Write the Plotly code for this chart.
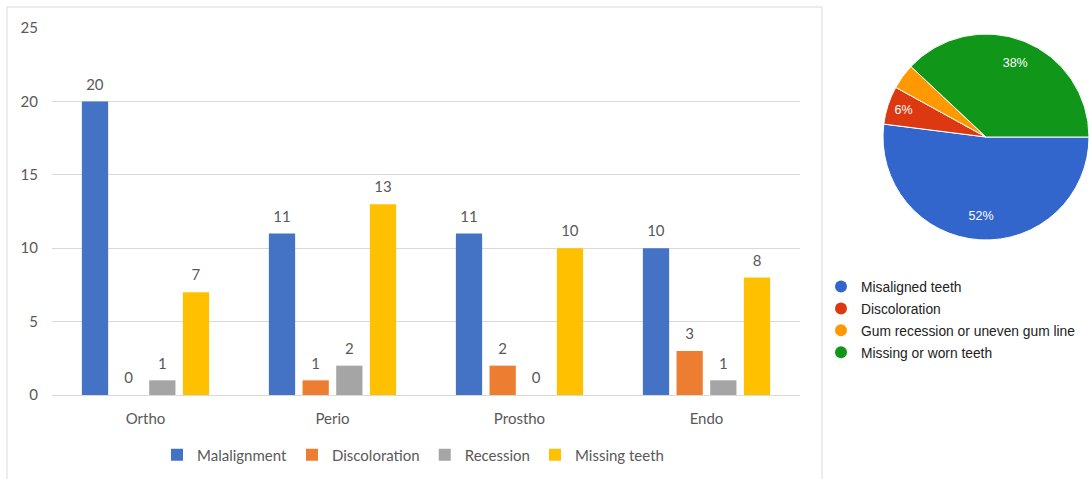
import plotly.graph_objects as go

W, H = 1089, 479

categories = ["Ortho", "Perio", "Prostho", "Endo"]
series_names = ["Malalignment", "Discoloration", "Recession", "Missing teeth"]
malalignment = [20, 11, 11, 10]
discoloration = [0, 1, 2, 3]
recession = [1, 2, 0, 1]
missing_teeth = [7, 13, 10, 8]
bar_values = [malalignment, discoloration, recession, missing_teeth]
bar_colors = ["#4472C4", "#ED7D31", "#A5A5A5", "#FFC000"]
y_ticks = [0, 5, 10, 15, 20, 25]

pie_labels = ["Misaligned teeth", "Discoloration", "Gum recession or uneven gum line", "Missing or worn teeth"]
pie_values = [52, 6, 4, 38]
pie_colors = ["#3366CC", "#DC3912", "#FF9900", "#109618"]
pie_text = ["52%", "6%", "", "38%"]

FONT = "Lato"
GRAY = "#595959"
NUM_SIZE = 15


def px_x(p):
    return p / W


def px_y(p):
    return 1 - p / H


def bar_label(v):
    # number on first line, tiny spacer line below lifts it off the bar top
    return f"<span style='font-size:{NUM_SIZE}px'>{v}</span><br>\u00a0"


fig = go.Figure()

for name, vals, col in zip(series_names, bar_values, bar_colors):
    fig.add_trace(go.Bar(
        name=name, x=categories, y=vals,
        marker=dict(color=col, line=dict(width=0)),
        text=[bar_label(v) for v in vals], textposition="outside",
        textfont=dict(family=FONT, size=6, color=GRAY),
        constraintext="none",
        cliponaxis=False, legend="legend", xaxis="x", yaxis="y",
    ))

pie_domain = dict(x=[px_x(883), 1.0], y=[px_y(240), px_y(34)])

# solid pie with thin white separators
fig.add_trace(go.Pie(
    labels=pie_labels, values=pie_values, sort=False,
    direction="clockwise", rotation=90,
    marker=dict(colors=pie_colors, line=dict(color="white", width=1)),
    textinfo="none", showlegend=False, hoverinfo="skip",
    domain=pie_domain,
))

# transparent ring on top carrying the percentage labels (keeps them near the rim)
fig.add_trace(go.Pie(
    labels=pie_labels, values=pie_values, sort=False,
    direction="clockwise", rotation=90, hole=0.54,
    marker=dict(colors=["rgba(0,0,0,0)"] * len(pie_values), line=dict(width=0)),
    text=pie_text, textinfo="text", textposition="inside",
    insidetextorientation="horizontal",
    textfont=dict(family="Liberation Sans", size=12.5, color="white"),
    showlegend=False,
    domain=pie_domain,
))

for i, (lab, col) in enumerate(zip(pie_labels, pie_colors)):
    fig.add_trace(go.Scatter(
        x=[None], y=[None], mode="markers", name=lab,
        marker=dict(symbol="circle", size=12, color=col),
        legend="legend2", legendgroup=f"g{i}", xaxis="x", yaxis="y",
    ))

fig.update_layout(
    width=W, height=H,
    margin=dict(l=0, r=0, t=0, b=0, autoexpand=False),
    paper_bgcolor="white", plot_bgcolor="white",
    font=dict(family=FONT, size=15, color=GRAY),
    barmode="group", bargap=0.28, bargroupgap=0.22,
    xaxis=dict(domain=[px_x(52), px_x(800)], showgrid=False, ticks="",
               showline=True, linecolor="#d9d9d9", linewidth=1,
               tickfont=dict(family=FONT, size=15, color=GRAY),
               ticklabelstandoff=10, categoryorder="array", categoryarray=categories,
               fixedrange=True),
    yaxis=dict(domain=[px_y(395), px_y(28)], range=[0, 25], tickvals=y_ticks,
               showgrid=True, gridcolor="#d9d9d9", gridwidth=1, zeroline=False,
               ticks="", showline=False,
               tickfont=dict(family=FONT, size=15, color=GRAY),
               ticklabelstandoff=13, fixedrange=True),
    legend=dict(orientation="h", x=px_x(413), xanchor="center",
                y=px_y(455), yanchor="middle",
                font=dict(family=FONT, size=15, color=GRAY),
                itemwidth=30, bgcolor="rgba(0,0,0,0)"),
    legend2=dict(orientation="v", x=px_x(821), xanchor="left",
                 y=px_y(271), yanchor="top",
                 font=dict(family="Liberation Sans", size=13.8, color="#222222"),
                 tracegroupgap=1, itemwidth=30, bgcolor="rgba(0,0,0,0)"),
    shapes=[dict(type="rect", xref="paper", yref="paper",
                 x0=px_x(7), x1=px_x(822), y0=-0.05, y1=px_y(7),
                 line=dict(color="#d9d9d9", width=1), layer="below")],
)

fig.write_html("out.html")
